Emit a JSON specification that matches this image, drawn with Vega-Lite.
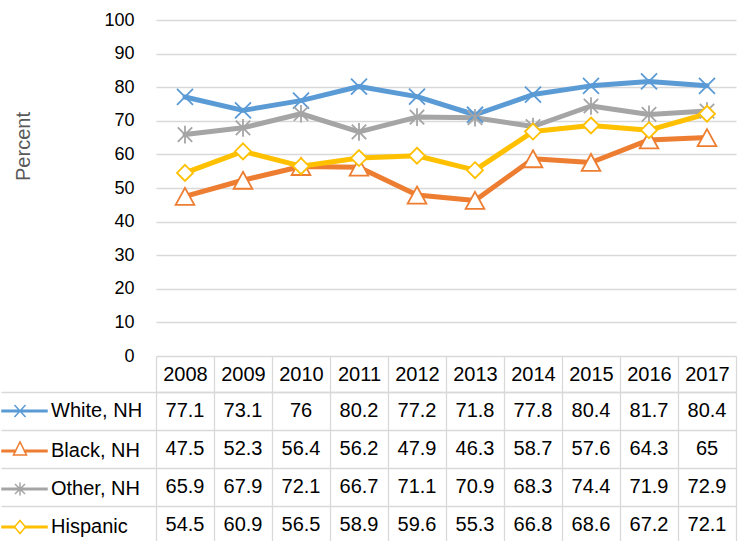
{
  "$schema": "https://vega.github.io/schema/vega-lite/v6.json",
  "padding": {"left": 0, "top": 11, "right": 8, "bottom": 0},
  "background": "white",
  "config": {
    "view": {"stroke": null},
    "font": "Liberation Sans, Arial"
  },
  "bounds": "flush",
  "spacing": 36,
  "resolve": {"scale": {"x": "independent", "y": "independent"}},
  "data": {
    "values": [
      {"series": "White, NH", "year": "2008", "value": 77.1},
      {"series": "White, NH", "year": "2009", "value": 73.1},
      {"series": "White, NH", "year": "2010", "value": 76},
      {"series": "White, NH", "year": "2011", "value": 80.2},
      {"series": "White, NH", "year": "2012", "value": 77.2},
      {"series": "White, NH", "year": "2013", "value": 71.8},
      {"series": "White, NH", "year": "2014", "value": 77.8},
      {"series": "White, NH", "year": "2015", "value": 80.4},
      {"series": "White, NH", "year": "2016", "value": 81.7},
      {"series": "White, NH", "year": "2017", "value": 80.4},
      {"series": "Black, NH", "year": "2008", "value": 47.5},
      {"series": "Black, NH", "year": "2009", "value": 52.3},
      {"series": "Black, NH", "year": "2010", "value": 56.4},
      {"series": "Black, NH", "year": "2011", "value": 56.2},
      {"series": "Black, NH", "year": "2012", "value": 47.9},
      {"series": "Black, NH", "year": "2013", "value": 46.3},
      {"series": "Black, NH", "year": "2014", "value": 58.7},
      {"series": "Black, NH", "year": "2015", "value": 57.6},
      {"series": "Black, NH", "year": "2016", "value": 64.3},
      {"series": "Black, NH", "year": "2017", "value": 65},
      {"series": "Other, NH", "year": "2008", "value": 65.9},
      {"series": "Other, NH", "year": "2009", "value": 67.9},
      {"series": "Other, NH", "year": "2010", "value": 72.1},
      {"series": "Other, NH", "year": "2011", "value": 66.7},
      {"series": "Other, NH", "year": "2012", "value": 71.1},
      {"series": "Other, NH", "year": "2013", "value": 70.9},
      {"series": "Other, NH", "year": "2014", "value": 68.3},
      {"series": "Other, NH", "year": "2015", "value": 74.4},
      {"series": "Other, NH", "year": "2016", "value": 71.9},
      {"series": "Other, NH", "year": "2017", "value": 72.9},
      {"series": "Hispanic", "year": "2008", "value": 54.5},
      {"series": "Hispanic", "year": "2009", "value": 60.9},
      {"series": "Hispanic", "year": "2010", "value": 56.5},
      {"series": "Hispanic", "year": "2011", "value": 58.9},
      {"series": "Hispanic", "year": "2012", "value": 59.6},
      {"series": "Hispanic", "year": "2013", "value": 55.3},
      {"series": "Hispanic", "year": "2014", "value": 66.8},
      {"series": "Hispanic", "year": "2015", "value": 68.6},
      {"series": "Hispanic", "year": "2016", "value": 67.2},
      {"series": "Hispanic", "year": "2017", "value": 72.1}
    ]
  },
  "vconcat": [
    {
      "width": 580,
      "height": 336,
      "encoding": {
        "x": {"field": "year", "type": "ordinal", "axis": null, "scale": {"type": "point", "padding": 0.5}},
        "y": {
          "field": "value", "type": "quantitative",
          "scale": {"domain": [0, 100]},
          "axis": {
            "values": [0, 10, 20, 30, 40, 50, 60, 70, 80, 90, 100],
            "labelOverlap": false,
            "grid": true, "gridColor": "#d9d9d9", "gridWidth": 1.3,
            "domain": false, "ticks": false,
            "labelFontSize": 18, "labelColor": "#000000", "labelPadding": 22,
            "title": "Percent", "titleFontSize": 20, "titleColor": "#595959", "titleFontWeight": "normal",
            "titleAngle": -90, "titleBaseline": "middle", "titleAlign": "center",
            "titleX": -133, "titleY": 126
          }
        }
      },
      "layer": [
        {
          "mark": {"type": "line", "strokeWidth": 5, "strokeCap": "round", "strokeJoin": "round"},
          "encoding": {
            "color": {
              "field": "series", "type": "nominal",
              "scale": {
                "domain": ["White, NH", "Black, NH", "Other, NH", "Hispanic"],
                "range": ["#5B9BD5", "#ED7D31", "#A5A5A5", "#FFC000"]
              },
              "legend": {
                "orient": "none", "legendX": -146, "legendY": 381,
                "direction": "vertical", "title": null,
                "labelFontSize": 20, "labelColor": "#000000", "labelOffset": 21, "labelLimit": 200,
                "symbolSize": 100, "symbolStrokeWidth": 1.5, "symbolOpacity": 1,
                "rowPadding": 18, "padding": 0, "offset": 0
              }
            }
          }
        },
        {
          "transform": [{"filter": "datum.series === 'White, NH'"}],
          "mark": {"type": "point", "shape": "M-1,-1L1,1M-1,1L1,-1", "size": 256, "filled": false, "fill": "white", "stroke": "#5B9BD5", "strokeWidth": 1.8, "opacity": 1},
          "encoding": {}
        },
        {
          "transform": [{"filter": "datum.series === 'Black, NH'"}],
          "mark": {"type": "point", "shape": "M0,-1L1.1,1L-1.1,1Z", "size": 289, "filled": false, "fill": "white", "stroke": "#ED7D31", "strokeWidth": 1.8, "opacity": 1},
          "encoding": {}
        },
        {
          "transform": [{"filter": "datum.series === 'Other, NH'"}],
          "mark": {"type": "point", "shape": "M-0.9,-0.9L0.9,0.9M-0.9,0.9L0.9,-0.9M0,-1.1L0,1.1", "size": 256, "filled": false, "fill": "white", "stroke": "#A5A5A5", "strokeWidth": 1.8, "opacity": 1},
          "encoding": {}
        },
        {
          "transform": [{"filter": "datum.series === 'Hispanic'"}],
          "mark": {"type": "point", "shape": "M0,-1L1,0L0,1L-1,0Z", "size": 256, "filled": false, "fill": "white", "stroke": "#FFC000", "strokeWidth": 1.8, "opacity": 1},
          "encoding": {}
        },
        {
          "mark": {"type": "point", "filled": false, "opacity": 0},
          "encoding": {
            "color": {
              "field": "series", "type": "nominal",
              "legend": {
                "orient": "none", "legendX": -146, "legendY": 381,
                "direction": "vertical", "title": null,
                "labelFontSize": 20, "labelColor": "#000000", "labelOffset": 21, "labelLimit": 200,
                "symbolSize": 100, "symbolStrokeWidth": 1.5, "symbolOpacity": 1,
                "rowPadding": 18, "padding": 0, "offset": 0
              }
            },
            "shape": {
              "field": "series", "type": "nominal",
              "scale": {
                "domain": ["White, NH", "Black, NH", "Other, NH", "Hispanic"],
                "range": [
                  "M-3.6,-0.15H5.4V0.15H-3.6ZM-1.1,-1.2L1.1,1.2M-1.1,1.2L1.1,-1.2",
                  "M-3.6,-0.15H-0.9V0.15H-3.6ZM0.9,-0.15H5.4V0.15H0.9ZM0,-1.8L1.3,0.8L-1.3,0.8ZM0,-1.8L-1.3,0.8L1.3,0.8Z",
                  "M-3.6,-0.15H5.4V0.15H-3.6ZM-1,-1L1,1M-1,1L1,-1M0,-1.3L0,1.3",
                  "M-3.6,-0.15H-1V0.15H-3.6ZM1,-0.15H5.4V0.15H1ZM0,-1.3L1.1,0L0,1.3L-1.1,0ZM0,-1.3L-1.1,0L0,1.3L1.1,0Z"
                ]
              },
              "legend": null
            }
          }
        }
      ]
    },
    {
      "width": 580,
      "height": 152,
      "mark": {"type": "text", "fontSize": 20, "color": "#000000", "baseline": "middle", "align": "center"},
      "encoding": {
        "x": {
          "field": "year", "type": "ordinal",
          "scale": {"type": "band", "paddingInner": 0, "paddingOuter": 0},
          "axis": {
            "orient": "top", "tickBand": "extent", "title": null,
            "grid": true, "gridColor": "#d9d9d9", "gridWidth": 1.3,
            "ticks": true, "tickSize": 36, "tickColor": "#d9d9d9", "tickWidth": 1.3,
            "domain": true, "domainColor": "#d9d9d9", "domainWidth": 1.3,
            "labelAngle": 0, "labelFontSize": 20, "labelColor": "#000000",
            "labelBaseline": "middle", "labelPadding": -18, "labelFlush": false
          }
        },
        "y": {
          "field": "series", "type": "nominal",
          "sort": ["White, NH", "Black, NH", "Other, NH", "Hispanic"],
          "scale": {"type": "band", "paddingInner": 0, "paddingOuter": 0},
          "axis": {
            "orient": "left", "tickBand": "extent", "title": null,
            "grid": true, "gridColor": "#d9d9d9", "gridWidth": 1.3,
            "ticks": true, "tickSize": 155, "tickColor": "#d9d9d9", "tickWidth": 1.3,
            "domain": false, "labels": false
          }
        },
        "text": {"field": "value", "type": "quantitative"}
      }
    }
  ]
}
